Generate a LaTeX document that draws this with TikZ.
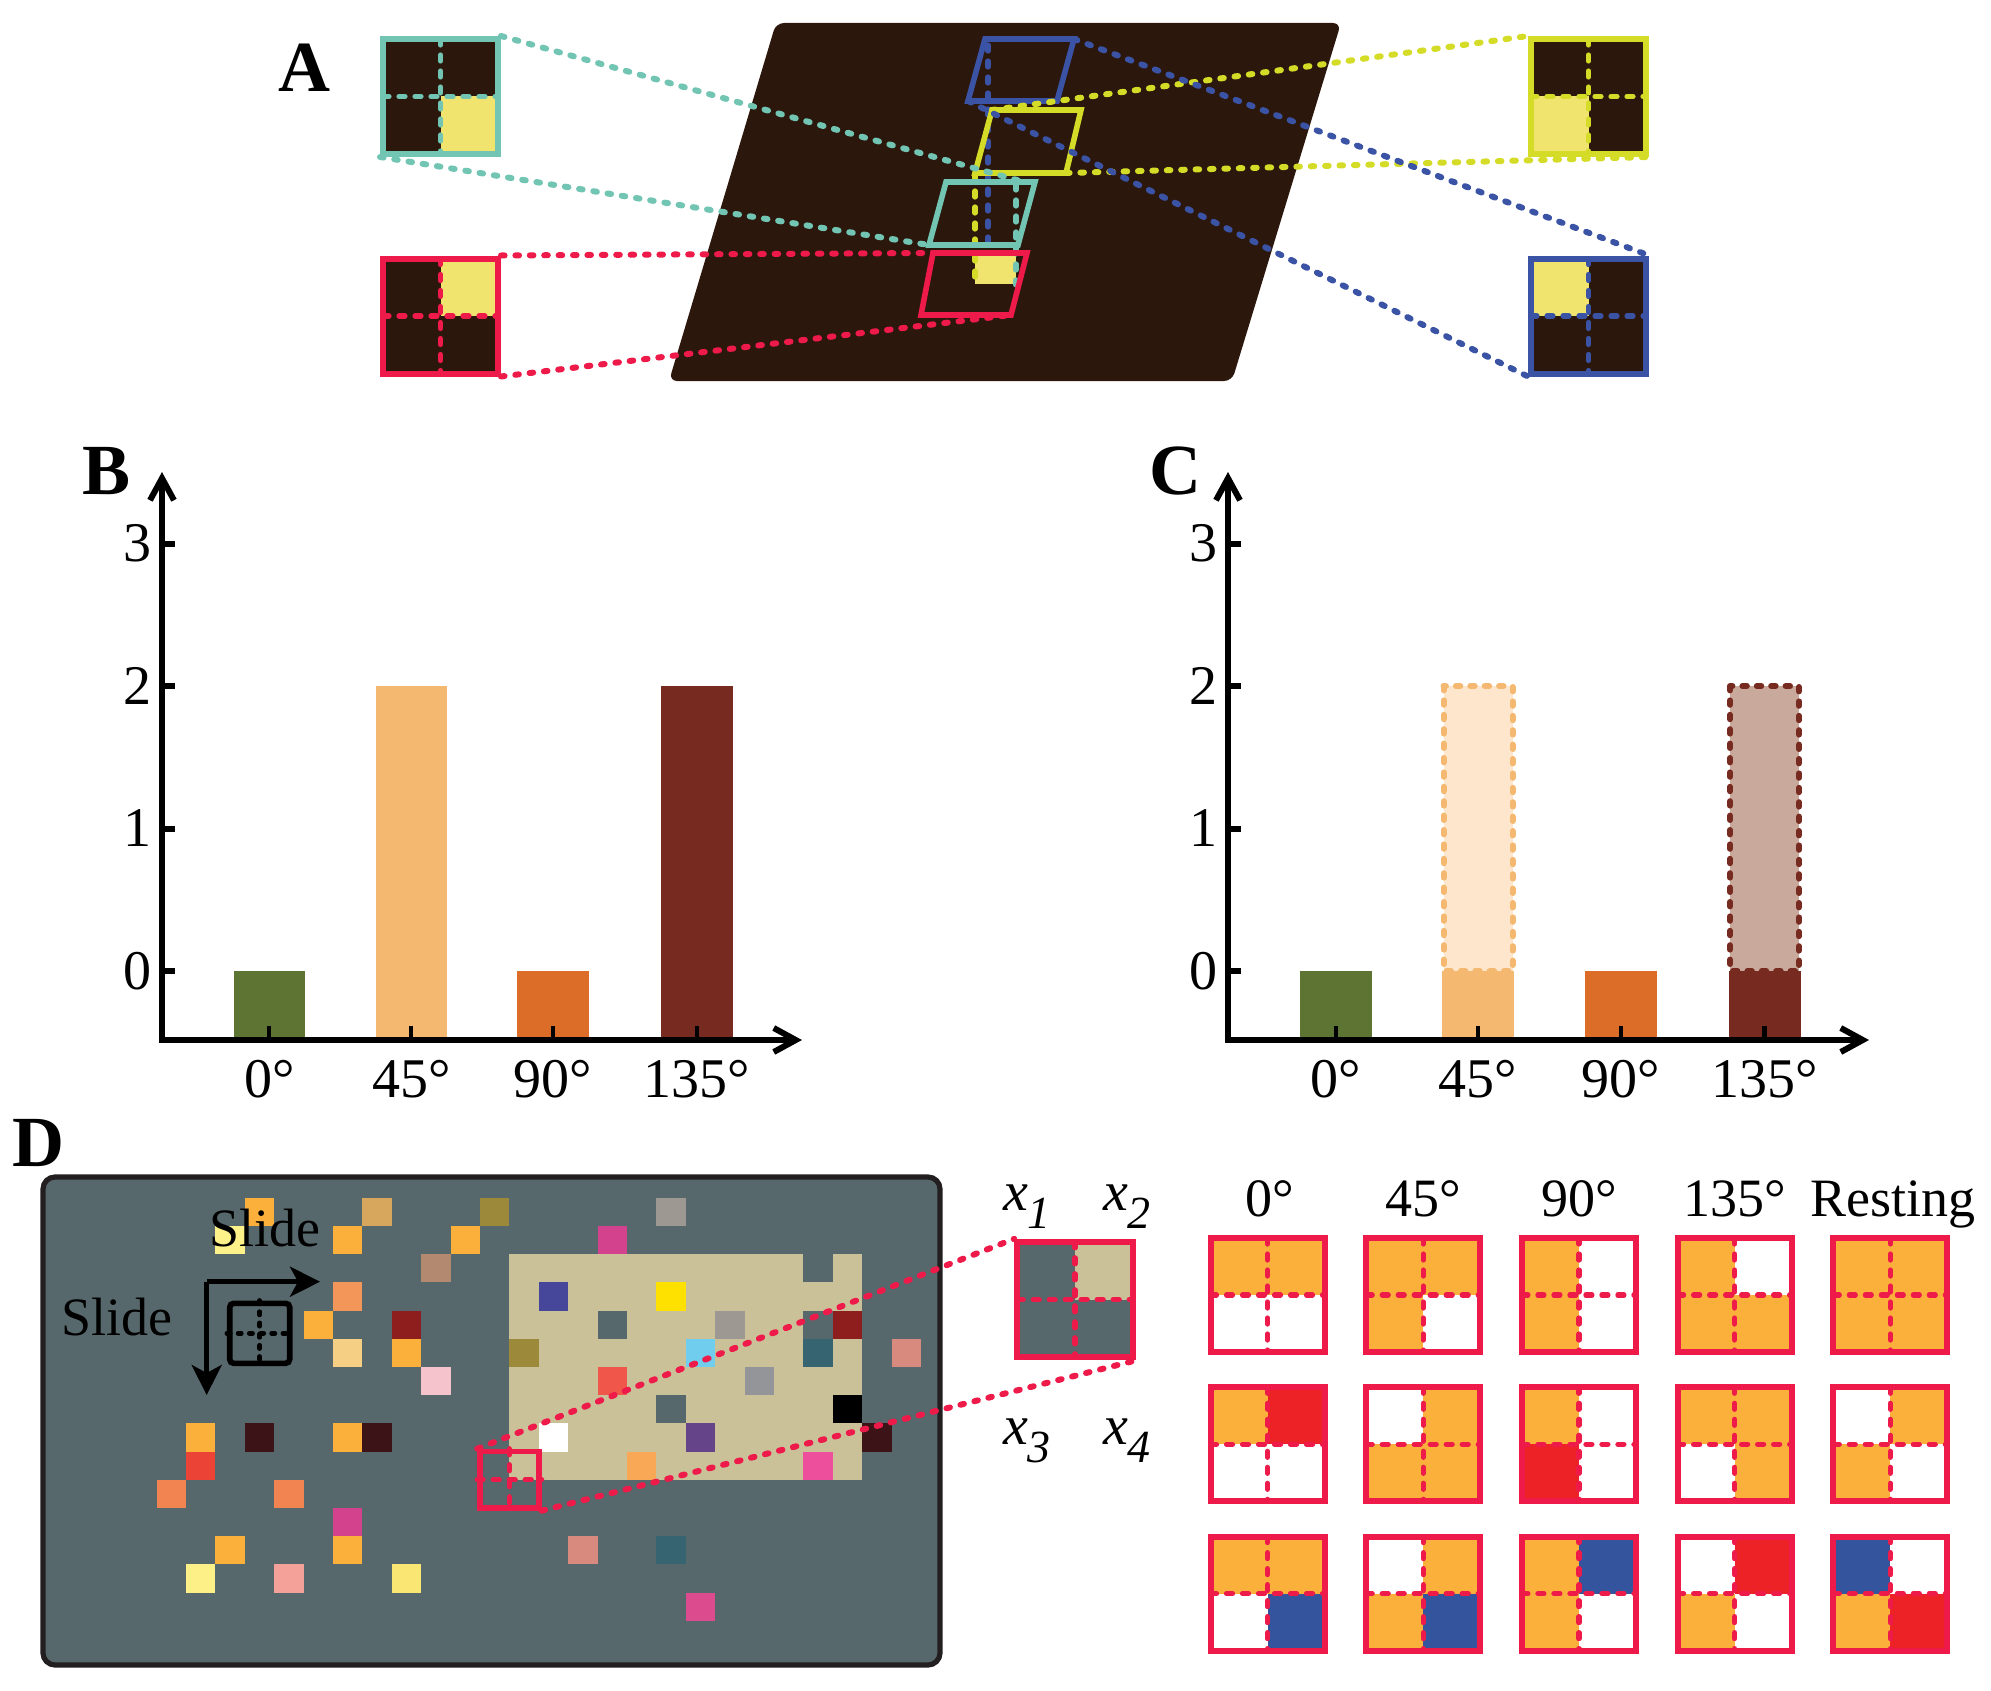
\documentclass[tikz,border=0pt]{standalone}
\usepackage{fontspec}
\setmainfont{Liberation Serif}
\usetikzlibrary{arrows.meta}
% panel A colours
\definecolor{aDark}{HTML}{2C170D}
\definecolor{aYel}{HTML}{F0E36E}
\definecolor{aTeal}{HTML}{72C5B2}
\definecolor{aRed}{HTML}{ED1A4A}
\definecolor{aLime}{HTML}{D4DC27}
\definecolor{aBlue}{HTML}{3A53A4}
% panels B, C
\definecolor{bGreen}{HTML}{5E7433}
\definecolor{bPeach}{HTML}{F4B870}
\definecolor{bOrange}{HTML}{DC6D28}
\definecolor{bBrown}{HTML}{772A1F}
\definecolor{cPeachL}{HTML}{FDE6CB}
\definecolor{cBrownL}{HTML}{C9A99C}
% panel D
\definecolor{dGray}{HTML}{57686C}
\definecolor{dFrame}{HTML}{231F20}
\definecolor{dBeige}{HTML}{CBC198}
\definecolor{dOrange}{HTML}{FBB03B}
\definecolor{dRed}{HTML}{EC2227}
\definecolor{dBlue}{HTML}{34549E}
\definecolor{dCrim}{HTML}{ED1A4A}
\definecolor{sqLY}{HTML}{FDF18A}
\definecolor{sqTan}{HTML}{D6A75C}
\definecolor{sqOlive}{HTML}{9C8A3A}
\definecolor{sqBrownish}{HTML}{B38A70}
\definecolor{sqSalmon}{HTML}{F29659}
\definecolor{sqLOr}{HTML}{F5CF83}
\definecolor{sqDRed}{HTML}{8E1D1D}
\definecolor{sqPink}{HTML}{F4C3CB}
\definecolor{sqMaroon}{HTML}{3C1417}
\definecolor{sqRed}{HTML}{EB4335}
\definecolor{sqCoral}{HTML}{F28452}
\definecolor{sqMag}{HTML}{D2428D}
\definecolor{sqLYb}{HTML}{FCF086}
\definecolor{sqPS}{HTML}{F4A19A}
\definecolor{sqYel}{HTML}{FAE773}
\definecolor{sqGrey}{HTML}{9E9893}
\definecolor{sqNavy}{HTML}{46479A}
\definecolor{sqYellow}{HTML}{FFE100}
\definecolor{sqLBlue}{HTML}{70CDEE}
\definecolor{sqTeal}{HTML}{366470}
\definecolor{sqSalmB}{HTML}{D98A7E}
\definecolor{sqRO}{HTML}{F0574A}
\definecolor{sqGreyB}{HTML}{939599}
\definecolor{sqPurple}{HTML}{66448A}
\definecolor{sqOrB}{HTML}{F9A955}
\definecolor{sqPinkB}{HTML}{EE4F9D}
\definecolor{sqPinkC}{HTML}{DC4B8E}

\tikzset{
  conn/.style={line width=3pt, dash pattern=on 1.8pt off 5.4pt, line cap=round},
  crossdash/.style={line width=2.6pt, dash pattern=on 3pt off 5pt, line cap=round},
  parabox/.style={line width=2.8pt, line join=miter},
  axisline/.style={line width=3pt, line join=miter},
  tickm/.style={line width=2.2pt},
  lbl/.style={font=\fontsize{28}{28}\selectfont, inner sep=0pt},
  hdr/.style={font=\fontsize{27}{27}\selectfont, inner sep=0pt},
  panel/.style={font=\fontsize{36}{36}\selectfont\bfseries, inner sep=0pt},
  dashbar/.style={line width=3pt, dash pattern=on 2.2pt off 5pt, line cap=round},
  barb/.style={{Straight Barb[length=11pt,width=12pt]}-{Straight Barb[length=11pt,width=12pt]}},
  slidearrow/.style={line width=2.4pt, -{Stealth[length=15pt,width=15pt,inset=4pt]}},
}

% name, cx, cy, half size (px), border, TL, TR, BL, BR
\newcommand\mkquad[9]{%
  \fill[#6] ({#2-#4},{#3-#4}) rectangle ({#2},{#3});
  \fill[#7] ({#2},{#3-#4}) rectangle ({#2+#4},{#3});
  \fill[#8] ({#2-#4},{#3}) rectangle ({#2},{#3+#4});
  \fill[#9] ({#2},{#3}) rectangle ({#2+#4},{#3+#4});
  \draw[crossdash,#5] ({#2},{#3-#4}) -- ({#2},{#3+#4});
  \draw[crossdash,#5] ({#2-#4},{#3}) -- ({#2+#4},{#3});
  \node[draw=#5, line width=3pt, minimum size=#4pt, inner sep=0pt] (#1) at ({#2},{#3}) {};
}

\begin{document}
\begin{tikzpicture}[x=0.5pt,y=-0.5pt]
\useasboundingbox (0,0) rectangle (1991,1691);

%================ Panel A ================
\node[panel] (labA) at (304,68) {A};
\fill[aDark, rounded corners=4pt] (776,23) -- (1341,23) -- (1232,381) -- (669,381) -- cycle;
\fill[aYel] (975,256) rectangle (1016,284);
\draw[crossdash, aLime] (975,175) -- (975,283);
\draw[crossdash, aBlue] (988,45) -- (988,253);
\draw[crossdash, aTeal] (1016,184) -- (1016,285);

\coordinate (pb1) at (985,39);  \coordinate (pb2) at (1074,39);
\coordinate (pb3) at (1057,101); \coordinate (pb4) at (968,101);
\coordinate (py1) at (992,110); \coordinate (py2) at (1081,110);
\coordinate (py3) at (1066,173); \coordinate (py4) at (975,173);
\coordinate (pt1) at (946,182); \coordinate (pt2) at (1035,182);
\coordinate (pt3) at (1018,245); \coordinate (pt4) at (929,245);
\coordinate (ptm) at (1024,182);
\coordinate (pr1) at (933,253); \coordinate (pr2) at (1027,253);
\coordinate (pr3) at (1011,315); \coordinate (pr4) at (921,315);

\draw[parabox, aBlue] (pb1) -- (pb2) -- (pb3) -- (pb4) -- cycle;
\draw[parabox, aLime] (py1) -- (py2) -- (py3) -- (py4) -- cycle;
\draw[parabox, aTeal] (pt1) -- (pt2) -- (pt3) -- (pt4) -- cycle;
\draw[parabox, aRed] (pr1) -- (pr2) -- (pr3) -- (pr4) -- cycle;

\mkquad{boxT}{440.5}{96.5}{57.5}{aTeal}{aDark}{aDark}{aDark}{aYel}
\mkquad{boxR}{440.5}{316}{57.5}{aRed}{aDark}{aYel}{aDark}{aDark}
\mkquad{boxY}{1588.5}{96.5}{57.5}{aLime}{aDark}{aDark}{aYel}{aDark}
\mkquad{boxB}{1588.5}{316}{57.5}{aBlue}{aYel}{aDark}{aDark}{aDark}

\draw[conn, aTeal] (boxT.north east) -- (ptm);
\draw[conn, aTeal] (boxT.south west) -- (pt4);
\draw[conn, aRed] (boxR.north east) -- (pr1);
\draw[conn, aRed] (boxR.south east) -- (pr3);
\draw[conn, aLime] (py1) -- (boxY.north west);
\draw[conn, aLime] (py3) -- (boxY.south east);
\draw[conn, aBlue] (pb2) -- (boxB.north east);
\draw[conn, aBlue] (pb4) -- (boxB.south west);

%================ Panel B ================
\node[panel] (labB) at (107,471) {B};
\fill[bGreen] (233.5,971) rectangle (305,1040);
\fill[bPeach] (375.5,686) rectangle (447,1040);
\fill[bOrange] (517,971) rectangle (588.5,1040);
\fill[bBrown] (661,686) rectangle (732.5,1040);
\foreach \xx in {269.2,411.2,552.7,696.7} \draw[tickm] (\xx,1040) -- (\xx,1026);
\coordinate (Bo) at (162,1040);
\coordinate (Bt) at (162,472);
\coordinate (Bx) at (802,1040);
\draw[axisline, barb] (Bt) -- (Bo) -- (Bx);
\foreach \v in {0,1,2,3} {
  \draw[axisline] (162,{971-142.5*\v}) -- (175,{971-142.5*\v});
  \node[lbl, anchor=east] (bv\v) at (152,{971-142.5*\v}) {\v};
}
\node[lbl, anchor=base] (bl0) at (269.2,1097) {0°};
\node[lbl, anchor=base] (bl1) at (411.2,1097) {45°};
\node[lbl, anchor=base] (bl2) at (552.7,1097) {90°};
\node[lbl, anchor=base] (bl3) at (696.7,1097) {135°};

%================ Panel C ================
\node[panel] (labC) at (1175,471) {C};
\fill[bGreen] (1300,971) rectangle (1372,1040);
\fill[bPeach] (1442,971) rectangle (1514,1040);
\fill[bOrange] (1585,971) rectangle (1656.5,1040);
\fill[bBrown] (1728.5,971) rectangle (1800.5,1040);
\draw[dashbar, draw=bPeach, fill=cPeachL] (1443.5,686) rectangle (1512.5,971);
\draw[dashbar, draw=bBrown, fill=cBrownL] (1730,686) rectangle (1799,971);
\foreach \xx in {1336,1478,1620.8,1764.5} \draw[tickm] (\xx,1040) -- (\xx,1026);
\coordinate (Co) at (1228,1040);
\coordinate (Ct) at (1228,472);
\coordinate (Cx) at (1869,1040);
\draw[axisline, barb] (Ct) -- (Co) -- (Cx);
\foreach \v in {0,1,2,3} {
  \draw[axisline] (1228,{971-142.5*\v}) -- (1241,{971-142.5*\v});
  \node[lbl, anchor=east] (cv\v) at (1218,{971-142.5*\v}) {\v};
}
\node[lbl, anchor=base] (cl0) at (1336,1097) {0°};
\node[lbl, anchor=base] (cl1) at (1478,1097) {45°};
\node[lbl, anchor=base] (cl2) at (1620.8,1097) {90°};
\node[lbl, anchor=base] (cl3) at (1764.5,1097) {135°};

%================ Panel D ================
\node[panel] (labD) at (38,1143) {D};
\draw[rounded corners=6pt, fill=dGray, draw=dFrame, line width=2.6pt] (43,1177) rectangle (940,1665);
\fill[dBeige] (509.4,1254.1) rectangle (862.2,1479.7);
\foreach \c/\r/\col in {
  2/0/dOrange, 1/1/sqLY, 6/0/sqTan, 5/1/dOrange, 10/0/sqOlive, 9/1/dOrange,
  8/2/sqBrownish, 5/3/sqSalmon, 4/4/dOrange, 5/5/sqLOr, 7/4/sqDRed, 7/5/dOrange,
  8/6/sqPink, 0/8/dOrange, 2/8/sqMaroon, 5/8/dOrange, 6/8/sqMaroon, 0/9/sqRed,
  -1/10/sqCoral, 3/10/sqCoral, 5/11/sqMag, 1/12/dOrange, 5/12/dOrange,
  0/13/sqLYb, 3/13/sqPS, 7/13/sqYel, 16/0/sqGrey, 14/1/sqMag,
  21/2/dGray, 12/3/sqNavy, 16/3/sqYellow, 14/4/dGray, 18/4/sqGrey, 21/4/dGray,
  22/4/sqDRed, 11/5/sqOlive, 17/5/sqLBlue, 21/5/sqTeal, 14/6/sqRO, 19/6/sqGreyB,
  16/7/dGray, 22/7/black, 12/8/white, 17/8/sqPurple, 15/9/sqOrB, 21/9/sqPinkB,
  24/5/sqSalmB, 23/8/sqMaroon, 13/12/sqSalmB, 16/12/sqTeal, 17/14/sqPinkC}
  \fill[\col] ({186+29.4*\c},{1197.7+28.2*\r}) rectangle ++(29.4,28.2);

% slide arrows and window
\coordinate (corner) at (206.7,1281.7);
\coordinate (hEnd) at (320,1281.7);
\coordinate (vEnd) at (206.7,1395);
\draw[slidearrow] (corner) -- (hEnd);
\draw[slidearrow] (corner) -- (vEnd);
\node[draw=black, line width=2.8pt, rounded corners=2pt, minimum size=30pt, inner sep=0pt] (win) at (259.7,1333.3) {};
\draw[black, line width=2.4pt, dash pattern=on 1.6pt off 4pt, line cap=round] (win.north) -- (win.south);
\draw[black, line width=2.4pt, dash pattern=on 1.6pt off 4pt, line cap=round] (win.west) -- (win.east);
\node[hdr, anchor=base] (slideH) at (265,1246) {Slide};
\node[hdr, anchor=base] (slideV) at (117,1335) {Slide};

% selected window
\node[draw=dCrim, line width=2.8pt, minimum width=29.4pt, minimum height=28.2pt, inner sep=0pt] (dsel) at (509.4,1479.7) {};
\draw[crossdash, dCrim] (dsel.north) -- (dsel.south);
\draw[crossdash, dCrim] (dsel.west) -- (dsel.east);

% magnified window
\mkquad{inset}{1075}{1299.6}{57.8}{dCrim}{dGray}{dBeige}{dGray}{dGray}
\draw[conn, dCrim] (dsel.north west) -- (inset.north west);
\draw[conn, dCrim] (dsel.south east) -- (inset.south east);
\node[lbl, font=\fontsize{28}{28}\selectfont\itshape] (x1) at (1027,1207) {x\raisebox{-0.32em}{\fontsize{23}{23}\selectfont 1}};
\node[lbl, font=\fontsize{28}{28}\selectfont\itshape] (x2) at (1127,1207) {x\raisebox{-0.32em}{\fontsize{23}{23}\selectfont 2}};
\node[lbl, font=\fontsize{28}{28}\selectfont\itshape] (x3) at (1027,1441) {x\raisebox{-0.32em}{\fontsize{23}{23}\selectfont 3}};
\node[lbl, font=\fontsize{28}{28}\selectfont\itshape] (x4) at (1127,1441) {x\raisebox{-0.32em}{\fontsize{23}{23}\selectfont 4}};

% headers
\node[hdr, anchor=base] (h0) at (1270,1216) {0°};
\node[hdr, anchor=base] (h1) at (1423.2,1216) {45°};
\node[hdr, anchor=base] (h2) at (1578.9,1216) {90°};
\node[hdr, anchor=base] (h3) at (1734.6,1216) {135°};
\node[hdr, anchor=base] (h4) at (1893,1216) {Resting};

% pattern grid
\foreach \ci/\rj/\pa/\pb/\pc/\pd in {
  0/0/dOrange/dOrange/white/white,
  1/0/dOrange/dOrange/dOrange/white,
  2/0/dOrange/white/dOrange/white,
  3/0/dOrange/white/dOrange/dOrange,
  4/0/dOrange/dOrange/dOrange/dOrange,
  0/1/dOrange/dRed/white/white,
  1/1/white/dOrange/dOrange/dOrange,
  2/1/dOrange/white/dRed/white,
  3/1/dOrange/dOrange/white/dOrange,
  4/1/white/dOrange/dOrange/white,
  0/2/dOrange/dOrange/white/dBlue,
  1/2/white/dOrange/dOrange/dBlue,
  2/2/dOrange/dBlue/dOrange/white,
  3/2/white/dRed/dOrange/white,
  4/2/dBlue/white/dOrange/dRed}{
  \mkquad{g\ci\rj}{1267.5+155.7*\ci}{1295+149.3*\rj}{57}{dCrim}{\pa}{\pb}{\pc}{\pd}
}
\end{tikzpicture}
\end{document}
